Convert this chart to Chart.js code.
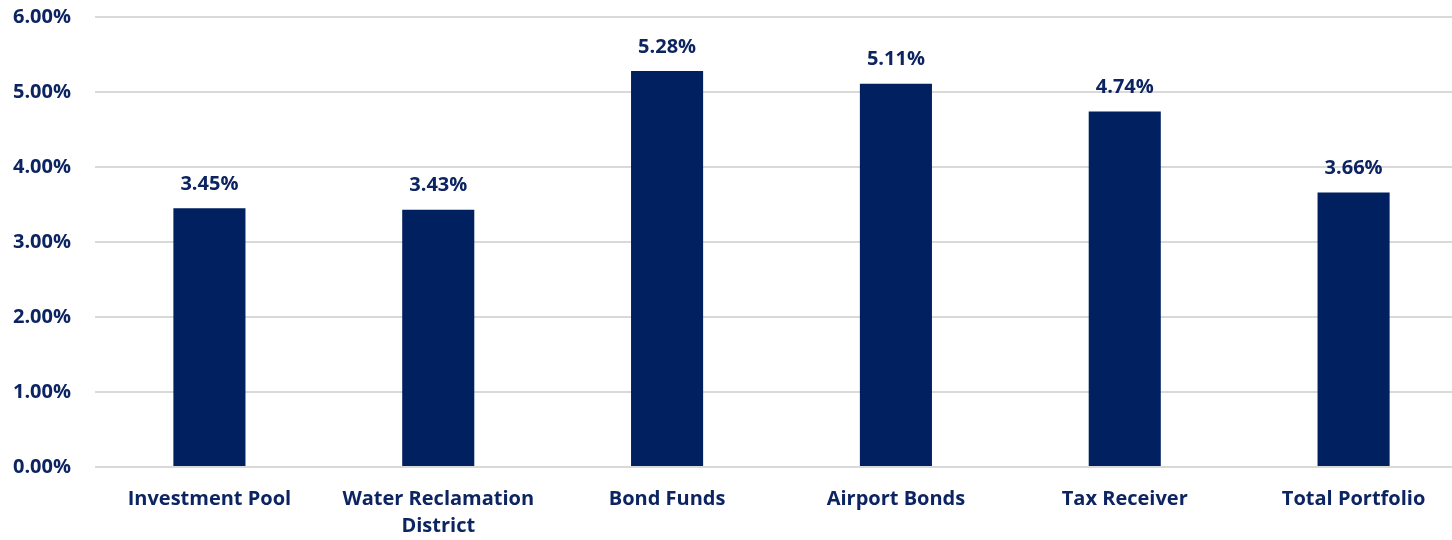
<!DOCTYPE html>
<html>
<head>
<meta charset="utf-8">
<script src="https://cdn.jsdelivr.net/npm/chart.js@4/dist/chart.umd.min.js"></script>
<style>
  html, body { margin: 0; padding: 0; background: #fff; overflow: hidden; }
  #wrap { width: 1468px; height: 540px; position: relative; }
</style>
</head>
<body>
<div id="wrap"><canvas id="yieldChart"></canvas></div>
<script>
// Chart data (yield in percent)
const categories = ['Investment Pool', ['Water Reclamation', 'District'], 'Bond Funds', 'Airport Bonds', 'Tax Receiver', 'Total Portfolio'];
const yields = [3.45, 3.43, 5.28, 5.11, 4.74, 3.66];
const yTicks = [0, 1, 2, 3, 4, 5, 6];

const navy = '#002060';
const textColor = '#0c2461';
const fontFamily = "'Open Sans', 'Noto Sans', sans-serif";

// Draw the value labels above each bar
const barLabels = {
	id: 'barLabels',
	afterDatasetsDraw(chart) {
		const ctx = chart.ctx;
		const meta = chart.getDatasetMeta(0);
		ctx.save();
		ctx.font = `bold 20px ${fontFamily}`;
		ctx.fillStyle = textColor;
		ctx.textAlign = 'center';
		ctx.textBaseline = 'middle';
		meta.data.forEach((bar, i) => {
			ctx.fillText(yields[i].toFixed(2) + '%', bar.x, bar.y - 24);
		});
		ctx.restore();
	}
};

const ctx = document.getElementById('yieldChart').getContext('2d');
new Chart(ctx, {
	type: 'bar',
	data: {
		labels: categories,
		datasets: [{
			data: yields,
			backgroundColor: navy,
			barPercentage: 0.315,
			categoryPercentage: 1.0,
		}]
	},
	options: {
		responsive: true,
		maintainAspectRatio: false,
		animation: false,
		layout: { padding: { top: 17, right: 0, bottom: 0, left: 0 } },
		plugins: {
			legend: { display: false },
			tooltip: { enabled: false },
		},
		scales: {
			y: {
				min: 0,
				max: 6,
				afterFit: (scale) => {
					scale.width = 95;
					scale.paddingTop = 0;
					scale.paddingBottom = 0;
				},
				afterBuildTicks: (scale) => {
					scale.ticks = yTicks.map(v => ({ value: v }));
				},
				border: { display: false },
				grid: { color: '#d9d9d9', lineWidth: 2, drawTicks: false },
				ticks: {
					padding: 24,
					color: textColor,
					font: { family: fontFamily, size: 20, weight: 'bold' },
					callback: (v) => v.toFixed(2) + '%'
				}
			},
			x: {
				afterFit: (scale) => { scale.height = 73; },
				border: { display: false },
				grid: { display: false, drawTicks: false },
				ticks: {
					padding: 19,
					maxRotation: 0,
					autoSkip: false,
					color: textColor,
					font: { family: fontFamily, size: 20, weight: 'bold', lineHeight: 1.35 }
				}
			}
		}
	},
	plugins: [barLabels]
});
</script>
</body>
</html>
